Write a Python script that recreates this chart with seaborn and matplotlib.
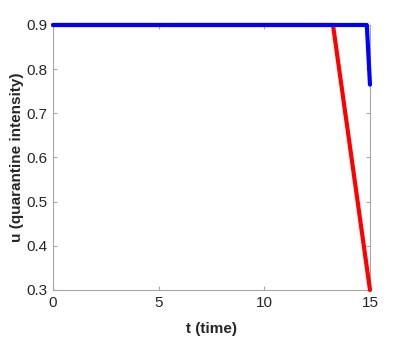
import matplotlib
matplotlib.use("Agg")
import matplotlib.pyplot as plt
import seaborn as sns
import pandas as pd

sns.set_theme(style="white")
plt.rcParams['font.family'] = ['Liberation Sans', 'DejaVu Sans']

t_red = [0, 13.25, 15]
u_red = [0.9, 0.9, 0.3]
t_blue = [0, 14.85, 15]
u_blue = [0.9, 0.9, 0.765]
xticks = [0, 5, 10, 15]
yticks = [0.3, 0.4, 0.5, 0.6, 0.7, 0.8, 0.9]

fig = plt.figure(figsize=(4.09, 3.54), dpi=100)
ax = fig.add_axes([0.1296, 0.1808, 0.775, 0.7486])

sns.lineplot(x=t_red, y=u_red, ax=ax, color="#ff0000", linewidth=3, sort=False, zorder=3)
sns.lineplot(x=t_blue, y=u_blue, ax=ax, color="#0000ff", linewidth=3, sort=False, zorder=4)

ax.set_xlim(0, 15)
ax.set_ylim(0.3, 0.9)
ax.set_xticks(xticks)
ax.set_xticklabels([str(v) for v in xticks])
ax.set_yticks(yticks)
ax.set_yticklabels([f"{v:.1f}" for v in yticks])
for s in ax.spines.values():
    s.set_color("#a6a6a6")
    s.set_linewidth(0.8)
ax.tick_params(direction="in", length=3, width=0.8, color="#a6a6a6",
               labelsize=11, labelcolor="#262626", right=True, top=True,
               left=True, bottom=True, pad=4)
ax.set_xlabel("t (time)", fontsize=11, fontweight="bold", color="#262626", labelpad=9)
ax.set_ylabel("u (quarantine intensity)", fontsize=11, fontweight="bold", color="#262626", labelpad=2)
for line in ax.lines:
    line.set_clip_on(False)

fig.savefig("out.png", dpi=100)
